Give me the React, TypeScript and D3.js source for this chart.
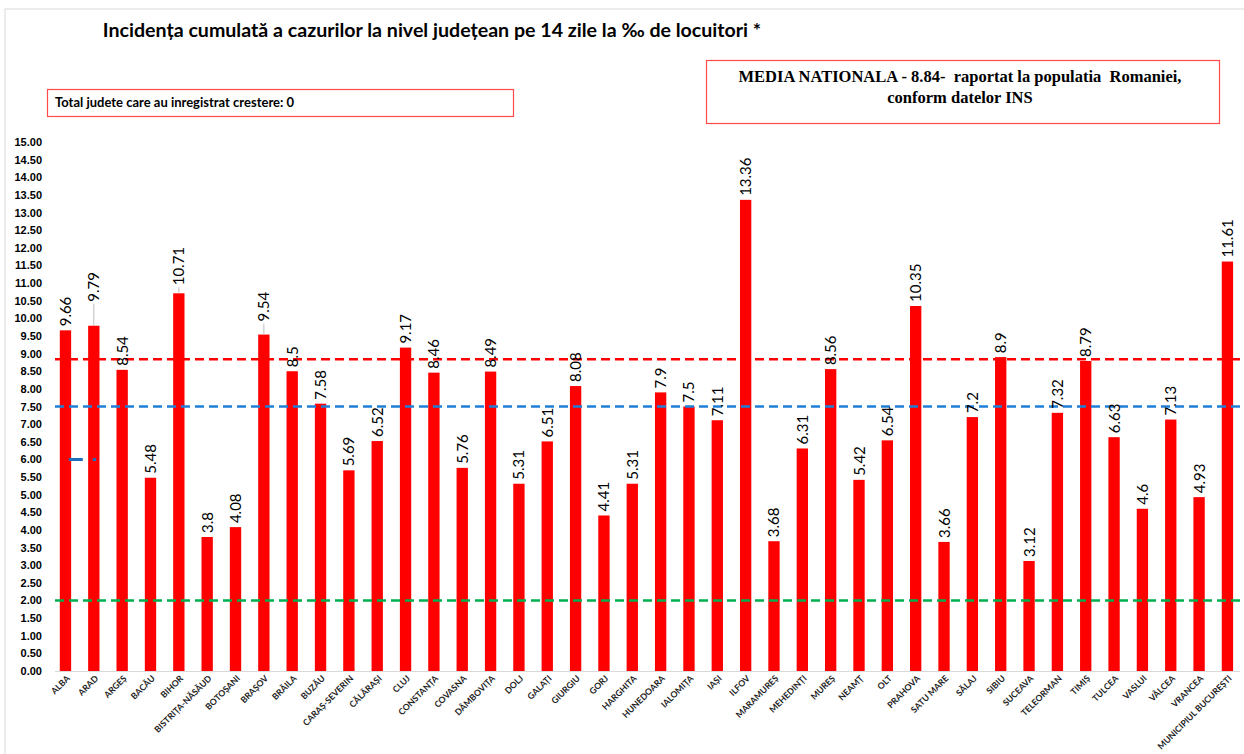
import React from "react";
import * as d3 from "d3";

const judete = [
  "ALBA", "ARAD", "ARGEȘ", "BACĂU", "BIHOR", "BISTRIȚA-NĂSĂUD", "BOTOȘANI", "BRAȘOV",
  "BRĂILA", "BUZĂU", "CARAȘ-SEVERIN", "CĂLĂRAȘI", "CLUJ", "CONSTANȚA", "COVASNA",
  "DÂMBOVIȚA", "DOLJ", "GALAȚI", "GIURGIU", "GORJ", "HARGHITA", "HUNEDOARA", "IALOMIȚA",
  "IAȘI", "ILFOV", "MARAMUREȘ", "MEHEDINȚI", "MUREȘ", "NEAMȚ", "OLT", "PRAHOVA",
  "SATU MARE", "SĂLAJ", "SIBIU", "SUCEAVA", "TELEORMAN", "TIMIȘ", "TULCEA", "VASLUI",
  "VÂLCEA", "VRANCEA", "MUNICIPIUL BUCUREȘTI",
];
const incidenta = [
  9.66, 9.79, 8.54, 5.48, 10.71, 3.8, 4.08, 9.54, 8.5, 7.58, 5.69, 6.52, 9.17, 8.46, 5.76,
  8.49, 5.31, 6.51, 8.08, 4.41, 5.31, 7.9, 7.5, 7.11, 13.36, 3.68, 6.31, 8.56, 5.42, 6.54,
  10.35, 3.66, 7.2, 8.9, 3.12, 7.32, 8.79, 6.63, 4.6, 7.13, 4.93, 11.61,
];
const yTicks = d3.range(0, 15.01, 0.5);
const mediaNationala = 8.84;
const pragAlbastru = 7.5;
const pragVerde = 2;
const pragMic = 6;
// labels that were pulled up with a leader line in the original
const labelLift: Record<string, number> = { ARAD: 20, BIHOR: 4, "BRAȘOV": 9 };

const W = 1244;
const H = 754;

export default function App() {
  const x = d3.scaleBand<string>().domain(judete).range([51.3, 1241.6]).paddingInner(0.6).paddingOuter(0.3);
  const y = d3.scaleLinear().domain([0, 15]).range([671, 142]);
  const x0 = 55;
  const x1 = 1240;

  const dashLine = (v: number, color: string) => (
    <line x1={x0} x2={x1} y1={y(v)} y2={y(v)} stroke={color} strokeWidth={2.5} strokeDasharray="9,5" />
  );

  return (
    <svg width={W} height={H} style={{ position: "absolute", left: 0, top: 0, background: "#fff" }}>
      <rect x={5} y={9} width={1260} height={760} fill="#fff" stroke="#d9d9d9" />
      <text x={432} y={37} textAnchor="middle" fontFamily="Lato" fontWeight="bold" fontSize={19.6} fill="#000">
        Incidența cumulată a cazurilor la nivel județean pe 14 zile la ‰ de locuitori *
      </text>

      <rect x={47.5} y={89.5} width={466} height={27} fill="#fff" stroke="#ff4b4b" strokeWidth={1.2} />
      <text x={55} y={107} fontFamily="Lato" fontWeight="bold" fontSize={13} fill="#000">
        Total judete care au inregistrat crestere: 0
      </text>

      <rect x={706.5} y={60.5} width={513} height={63} fill="#fff" stroke="#ff4b4b" strokeWidth={1.2} />
      <text textAnchor="middle" fontFamily="Liberation Serif" fontWeight="bold" fontSize={16.5} fill="#000" style={{ whiteSpace: "pre" }}>
        <tspan x={960} y={82}>{"MEDIA NATIONALA - 8.84-  raportat la populatia  Romaniei,"}</tspan>
        <tspan x={960} y={103}>conform datelor INS</tspan>
      </text>

      {yTicks.map((t) => (
        <text key={t} x={42} y={y(t) + 4} textAnchor="end" fontFamily="Liberation Sans" fontWeight="bold" fontSize={11} fill="#000">
          {t.toFixed(2)}
        </text>
      ))}

      <line x1={x0} x2={x1} y1={671.5} y2={671.5} stroke="#d9d9d9" strokeWidth={1} />

      {judete.map((j, i) => (
        <rect key={j} x={x(j)} y={y(incidenta[i])} width={x.bandwidth()} height={y(0) - y(incidenta[i])} fill="#ff0000" />
      ))}

      {dashLine(mediaNationala, "#ff0000")}
      {dashLine(pragAlbastru, "#1f7fd6")}
      {dashLine(pragVerde, "#00b050")}
      <line x1={x("ALBA")! + 9} x2={x("ARAD")! + 8} y1={y(pragMic)} y2={y(pragMic)} stroke="#1f6fc0" strokeWidth={3} strokeDasharray="14,10" />

      {judete.map((j, i) => {
        const cx = x(j)! + x.bandwidth() / 2;
        const top = y(incidenta[i]);
        const lift = labelLift[j] || 0;
        const base = top - 4 - lift;
        return (
          <g key={j}>
            {lift > 0 && <line x1={cx} x2={cx} y1={top} y2={base + 2} stroke="#bfbfbf" strokeWidth={1} />}
            <text transform={`translate(${cx + 5.5},${base}) rotate(-90)`} fontFamily="Lato" fontSize={15} fill="#000">
              {String(incidenta[i])}
            </text>
          </g>
        );
      })}

      {judete.map((j) => {
        const cx = x(j)! + x.bandwidth() / 2;
        return (
          <text key={j} transform={`translate(${cx + 5},${679}) rotate(-45)`} textAnchor="end" fontFamily="Lato" fontWeight="bold" fontSize={8.7} fill="#222">
            {j}
          </text>
        );
      })}
    </svg>
  );
}
